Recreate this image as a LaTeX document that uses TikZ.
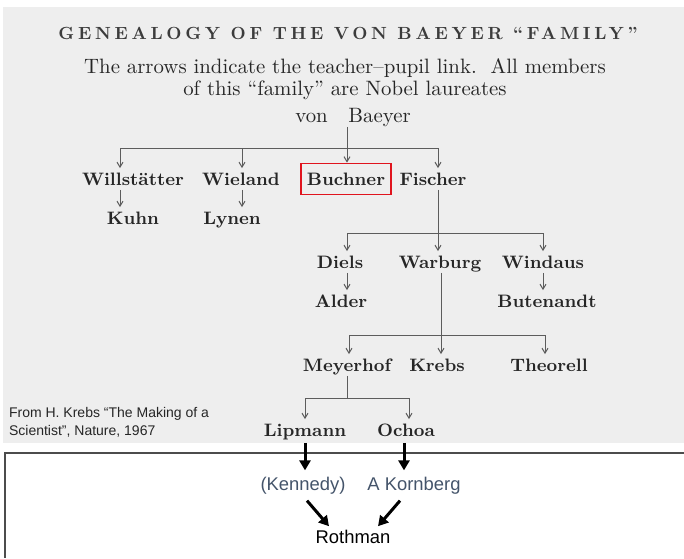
\documentclass[tikz,border=0pt]{standalone}
\usepackage{fontspec}
\setsansfont{Liberation Sans}
\newfontfamily\titlefont{lmroman10-bold}[Extension=.otf,LetterSpace=21]
\usetikzlibrary{calc,positioning,arrows.meta}
\definecolor{scangray}{HTML}{EEEEEE}
\definecolor{ink}{HTML}{262626}
\definecolor{slate}{HTML}{44546A}
\definecolor{boxred}{HTML}{E0141E}

\begin{document}
\begin{tikzpicture}[x=0.5pt,y=-0.5pt,
    sci/.style={text=ink,font=\fontsize{9}{10}\selectfont\bfseries,inner sep=1pt,text height=7.5pt,text depth=1pt},
    link/.style={draw=ink!75,line width=0.5pt},
    pupil/.style={link,-{Straight Barb[length=2.5pt,width=3pt]}},
    heavy/.style={line width=1.5pt,-{Triangle[length=5pt,width=5.5pt]}},
    modern/.style={font=\sffamily\fontsize{9.2}{11}\selectfont}]
    \useasboundingbox (0,0) rectangle (684,558);
    \fill[scangray] (3,7) rectangle (684,443);
    \draw[gray!60!black,line width=0.6pt] (684,453) -- (5,453) -- (5,558);

    % heading
    \node[text=ink!90,font=\titlefont\fontsize{8.8}{10}\selectfont] (title) at (348,33) {GENEALOGY OF THE VON BAEYER “FAMILY”};
    \node[text=ink,align=center,font=\fontsize{10.4}{11}\selectfont] (legend) at (345,79)
        {The arrows indicate the teacher–pupil link.\ \ All members\\of this “family” are Nobel laureates};

    % the family
    \node[sci,font=\fontsize{10.4}{11}\selectfont] (baeyer) at (353,116) {von\quad Baeyer};
    \node[sci] (willst) at (133,179) {Willstätter};
    \node[sci] (wieland) at (241,179) {Wieland};
    \node[sci,draw=boxred,line width=0.9pt,minimum width=45pt,minimum height=15.5pt] (buchner) at (346,179) {Buchner};
    \node[sci] (fischer) at (433,179) {Fischer};
    \node[sci] (kuhn) at (133,218) {Kuhn};
    \node[sci] (lynen) at (232,218) {Lynen};
    \node[sci] (diels) at (340,262) {Diels};
    \node[sci] (warburg) at (440,262) {Warburg};
    \node[sci] (windaus) at (543,262) {Windaus};
    \node[sci] (alder) at (341,301) {Alder};
    \node[sci] (butenandt) at (547,301) {Butenandt};
    \node[sci] (meyerhof) at (347,365) {Meyerhof};
    \node[sci] (krebs) at (437,365) {Krebs};
    \node[sci] (theorell) at (549,365) {Theorell};
    \node[sci] (lipmann) at (305,430) {Lipmann};
    \node[sci] (ochoa) at (406,430) {Ochoa};

    \node[modern,font=\sffamily\fontsize{7}{9}\selectfont,align=left,anchor=west,text=ink] (source) at (2,422)
        {From H. Krebs “The Making of a\\Scientist”, Nature, 1967};

    % junctions
    \coordinate (b1w) at (120,148);
    \coordinate (b1e) at (438,148);
    \coordinate (b1m) at (347,148);
    \coordinate (b1l) at (242,148);
    \coordinate (b2w) at (347,233);
    \coordinate (b2m) at (438,233);
    \coordinate (b2e) at (543,233);
    \coordinate (b3w) at (349,335);
    \coordinate (b3m) at (441,335);
    \coordinate (b3e) at (545,335);
    \coordinate (b4w) at (305,398);
    \coordinate (b4e) at (409,398);

    \draw[link] (b1w) -- (b1e);
    \draw[pupil] (b1m |- baeyer.south) -- (b1m |- buchner.north);
    \draw[pupil] (b1w) -- (b1w |- willst.north);
    \draw[pupil] (b1l) -- (b1l |- wieland.north);
    \draw[pupil] (b1e) -- (b1e |- fischer.north);
    \draw[pupil] (b1w |- willst.south) -- (b1w |- kuhn.north);
    \draw[pupil] (b1l |- wieland.south) -- (b1l |- lynen.north);

    \draw[link] (b2m |- fischer.south) -- (b2m);
    \draw[link] (b2w) -- (b2e);
    \draw[pupil] (b2w) -- (b2w |- diels.north);
    \draw[pupil] (b2m) -- (b2m |- warburg.north);
    \draw[pupil] (b2e) -- (b2e |- windaus.north);
    \draw[pupil] (b2w |- diels.south) -- (b2w |- alder.north);
    \draw[pupil] (b2e |- windaus.south) -- (b2e |- butenandt.north);

    \draw[link] (b3m |- warburg.south) -- (b3m);
    \draw[link] (b3w) -- (b3e);
    \draw[pupil] (b3w) -- (b3w |- meyerhof.north);
    \draw[pupil] (b3m) -- (b3m |- krebs.north);
    \draw[pupil] (b3e) -- (b3e |- theorell.north);

    \draw[link] (meyerhof.south) -- (meyerhof.south |- b4w);
    \draw[link] (b4w) -- (b4e);
    \draw[pupil] (b4w) -- (b4w |- lipmann.north);
    \draw[pupil] (b4e) -- (b4e |- ochoa.north);

    % later generations
    \node[modern,text=slate] (kennedy) at (303,486) {(Kennedy)};
    \node[modern,text=slate] (kornberg) at (414,486) {A Kornberg};
    \node[modern,text=black] (rothman) at (353,537) {Rothman};

    \draw[heavy] ([yshift=-1pt]lipmann.south) -- (lipmann.south |- kennedy.north);
    \draw[heavy] ([xshift=-1pt,yshift=-1pt]ochoa.south) -- ([xshift=-1pt]ochoa.south |- kornberg.north);
    \draw[heavy] ($(kennedy.south)+(4,-1)$) -- ($(rothman.north)+(-24,3)$);
    \draw[heavy] ($(kornberg.south)+(-14,-1)$) -- ($(rothman.north)+(25,3)$);
\end{tikzpicture}
\end{document}
